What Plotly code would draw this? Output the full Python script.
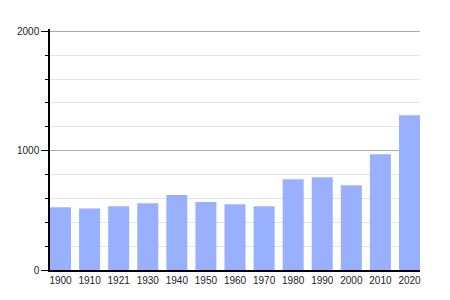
import plotly.graph_objects as go

years = ["1900", "1910", "1921", "1930", "1940", "1950", "1960", "1970", "1980", "1990", "2000", "2010", "2020"]
population = [525, 516, 535, 560, 628, 569, 552, 535, 761, 778, 711, 971, 1297]

idx = list(range(len(years)))
gap = 0.278
fig = go.Figure(go.Bar(x=idx, y=population, marker=dict(color="#99b0fe", line=dict(width=0)),
                       width=1 - gap))

fig.update_layout(
    width=450, height=300,
    margin=dict(l=50, r=30, t=29, b=30),
    paper_bgcolor="white", plot_bgcolor="white",
    font=dict(family="Liberation Sans, Arial, sans-serif", size=10, color="#222"),
    showlegend=False,
)
fig.update_xaxes(
    range=[-(1 - gap) / 2, len(years) - 1 + (1 - gap) / 2],
    tickmode="array", tickvals=idx, ticktext=years,
    showgrid=False, zeroline=False, showline=True, linecolor="black", linewidth=1.5,
    ticks="", ticklen=0,
)
fig.update_yaxes(
    range=[0, 2020], dtick=1000, tick0=0,
    showgrid=True, gridcolor="#aaaaaa", gridwidth=1,
    zeroline=False, showline=True, linecolor="black", linewidth=1.5,
    ticks="outside", ticklen=7, tickcolor="black", tickwidth=1,
    minor=dict(dtick=200, ticks="outside", ticklen=3, tickcolor="black", showgrid=True,
               gridcolor="#e4e4e4", gridwidth=1),
)
fig.write_html("out.html")
